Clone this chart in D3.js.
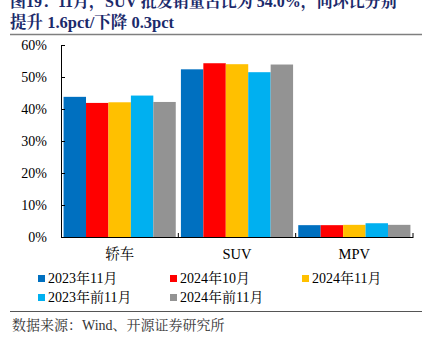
<!DOCTYPE html>
<html>
<head>
<meta charset="utf-8">
<script src="https://cdn.jsdelivr.net/npm/d3@7"></script>
<style>
  body { margin: 0; background: #fff; }
  svg { display: block; }
</style>
</head>
<body>
<div id="chart"></div>
<script>
// datos del gráfico
const categories = ["轿车", "SUV", "MPV"];
const seriesNames = ["2023年11月", "2024年10月", "2024年11月", "2023年前11月", "2024年前11月"];
const seriesColors = ["#0070C0", "#FF0000", "#FFC000", "#00B0F0", "#939393"];
const s2023Nov = [43.8, 52.4, 3.7];
const s2024Oct = [41.9, 54.3, 3.7];
const s2024Nov = [42.1, 54.0, 3.8];
const s2023Ytd = [44.2, 51.5, 4.3];
const s2024Ytd = [42.2, 53.9, 3.8];
const yTicks = [0, 10, 20, 30, 40, 50, 60];

const seriesValues = [s2023Nov, s2024Oct, s2024Nov, s2023Ytd, s2024Ytd];

const width = 436, height = 340;
const serif = "'Liberation Serif', 'Times New Roman', 'Noto Serif CJK SC', serif";

const svg = d3.select("#chart").append("svg")
  .attr("width", width)
  .attr("height", height);

// título (la primera línea queda cortada arriba, como en el original)
const titleColor = "#1B2A6B";
svg.append("text")
  .attr("x", 10).attr("y", 7)
  .attr("fill", titleColor)
  .style("font-family", serif).style("font-size", "16px").style("font-weight", "bold")
  .text("图19：11月，SUV 批发销量占比为 54.0%，同环比分别");
svg.append("text")
  .attr("x", 10).attr("y", 28)
  .attr("fill", titleColor)
  .style("font-family", serif).style("font-size", "16.5px").style("font-weight", "bold")
  .text("提升 1.6pct/下降 0.3pct");
svg.append("line")
  .attr("x1", 10).attr("x2", 422).attr("y1", 34.5).attr("y2", 34.5)
  .attr("stroke", "#7f7f7f").attr("stroke-width", 1.5);

// escalas
const plot = { left: 61, right: 413, top: 45, bottom: 237 };
const x0 = d3.scaleBand().domain(categories).range([plot.left, plot.right]).paddingInner(0).paddingOuter(0);
const x1 = d3.scaleBand().domain(d3.range(seriesNames.length))
  .range([0, x0.bandwidth()]).paddingOuter(0.115).paddingInner(0);
const y = d3.scaleLinear().domain([0, 60]).range([plot.bottom, plot.top]);

// barras
const groups = svg.append("g").selectAll("g")
  .data(categories)
  .join("g")
  .attr("transform", d => `translate(${x0(d)},0)`);

groups.selectAll("rect")
  .data((c, ci) => seriesValues.map((vals, si) => ({ si, v: vals[ci] })))
  .join("rect")
  .attr("x", d => x1(d.si))
  .attr("width", x1.bandwidth())
  .attr("y", d => y(d.v))
  .attr("height", d => y(0) - y(d.v))
  .attr("fill", d => seriesColors[d.si]);

// eje Y
const yAxis = svg.append("g")
  .attr("transform", `translate(${plot.left},0)`)
  .call(d3.axisLeft(y).tickValues(yTicks).tickFormat(d => d + "%").tickSize(4).tickSizeOuter(0));
yAxis.select(".domain").attr("stroke", "#000");
yAxis.selectAll(".tick line").attr("stroke", "#000").attr("x2", 4).attr("x1", 0);
yAxis.selectAll("text")
  .attr("x", -14)
  .style("font-family", serif).style("font-size", "14px").attr("fill", "#000");

// eje X
const xAxis = svg.append("g")
  .attr("transform", `translate(0,${plot.bottom})`)
  .call(d3.axisBottom(x0).tickSize(0).tickSizeOuter(0).tickPadding(12));
xAxis.select(".domain").attr("stroke", "#000").attr("stroke-width", 1.2);
xAxis.selectAll("text")
  .style("font-family", serif).style("font-size", "14.5px").attr("fill", "#000");
// marcas entre categorías
svg.append("g").selectAll("line")
  .data(categories)
  .join("line")
  .attr("x1", d => x0(d) + x0.bandwidth()).attr("x2", d => x0(d) + x0.bandwidth())
  .attr("y1", plot.bottom - 4).attr("y2", plot.bottom)
  .attr("stroke", "#000");

// leyenda
const legendPos = [[38, 283], [170, 283], [302, 283], [38, 302], [170, 302]];
const legend = svg.append("g").selectAll("g")
  .data(seriesNames)
  .join("g")
  .attr("transform", (d, i) => `translate(${legendPos[i][0]},${legendPos[i][1]})`);
legend.append("rect")
  .attr("x", 0).attr("y", -8).attr("width", 7).attr("height", 7)
  .attr("fill", (d, i) => seriesColors[i]);
legend.append("text")
  .attr("x", 10).attr("y", 0)
  .style("font-family", serif).style("font-size", "14px").attr("fill", "#000")
  .text(d => d);

// pie
svg.append("line")
  .attr("x1", 10).attr("x2", 422).attr("y1", 311.5).attr("y2", 311.5)
  .attr("stroke", "#555").attr("stroke-width", 1);
svg.append("text")
  .attr("x", 12).attr("y", 330)
  .style("font-family", serif).style("font-size", "14px").attr("fill", "#333")
  .text("数据来源：Wind、开源证券研究所");
</script>
</body>
</html>
